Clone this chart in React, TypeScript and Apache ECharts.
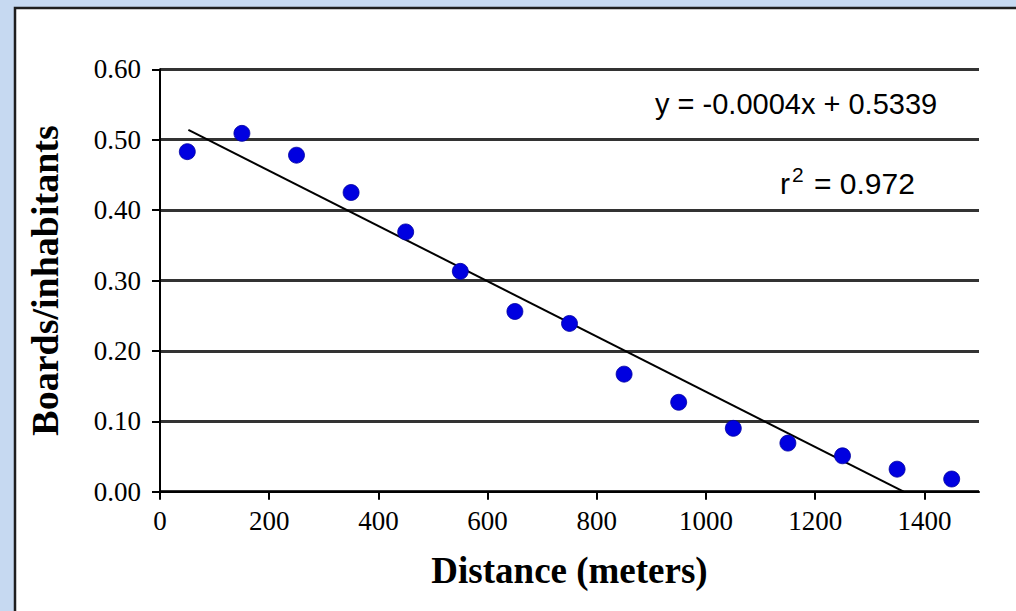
import React, { useEffect, useRef } from "react";
import * as echarts from "echarts";

const distances = [50, 150, 250, 350, 450, 550, 650, 750, 850, 950, 1050, 1150, 1250, 1350, 1450];
const boardsPerInhabitant = [0.483, 0.509, 0.478, 0.425, 0.369, 0.313, 0.256, 0.239, 0.167, 0.127, 0.09, 0.069, 0.051, 0.032, 0.018];
const trendX = [52, 1362];
const trendY = [0.514, 0];
const equationText = "y = -0.0004x + 0.5339";
const r2Value = "0.972";

export default function App() {
  const ref = useRef<HTMLDivElement>(null);
  useEffect(() => {
    if (!ref.current) return;
    const chart = echarts.init(ref.current, undefined, { renderer: "svg" });
    const serif = "'Liberation Serif', 'Times New Roman', serif";
    const sans = "'Liberation Sans', Arial, sans-serif";
    chart.setOption({
      animation: false,
      backgroundColor: "#c6d9f1",
      graphic: [
        {
          type: "rect",
          z: -10,
          shape: { x: 15, y: 8, width: 1030, height: 640 },
          style: { fill: "#ffffff", stroke: "#1e1e1e", lineWidth: 2.5 },
        },
        {
          type: "text",
          z: 100,
          style: {
            text: equationText,
            x: 655,
            y: 104,
            verticalAlign: "middle",
            font: `29px ${sans}`,
            fill: "#000",
          },
        },
        {
          type: "text",
          z: 100,
          style: {
            text: `{a|r}{s|2}{a| = ${r2Value}}`,
            x: 780,
            y: 181,
            verticalAlign: "middle",
            rich: {
              a: { fontFamily: sans, fontSize: 30, fill: "#000", verticalAlign: "bottom" },
              s: { fontFamily: sans, fontSize: 21, fill: "#000", verticalAlign: "top", padding: [0, 2, 14, 2] },
            },
          },
        },
      ],
      grid: { left: 160, right: 37, top: 69.3, bottom: 119.3 },
      xAxis: {
        type: "value",
        min: 0,
        max: 1500,
        interval: 200,
        name: "Distance (meters)",
        nameLocation: "middle",
        nameGap: 60,
        nameTextStyle: { fontFamily: serif, fontWeight: "bold", fontSize: 37, color: "#000" },
        axisLine: { show: true, onZero: false, lineStyle: { color: "#000", width: 2 } },
        axisTick: { show: true, length: 8, lineStyle: { color: "#000", width: 2 } },
        axisLabel: {
          margin: 16,
          fontFamily: serif,
          fontSize: 27,
          color: "#000",
          showMaxLabel: false,
          formatter: (v: number) => String(v),
        },
        splitLine: { show: false },
      },
      yAxis: {
        type: "value",
        min: 0,
        max: 0.6,
        interval: 0.1,
        name: "Boards/inhabitants",
        nameLocation: "middle",
        nameGap: 96,
        nameTextStyle: { fontFamily: serif, fontWeight: "bold", fontSize: 38, color: "#000" },
        axisLine: { show: true, lineStyle: { color: "#000", width: 2 } },
        axisTick: { show: true, length: 8, lineStyle: { color: "#000", width: 2 } },
        axisLabel: {
          margin: 19,
          fontFamily: serif,
          fontSize: 27,
          color: "#000",
          formatter: (v: number) => v.toFixed(2),
        },
        splitLine: { show: true, lineStyle: { color: "#333", width: 3 } },
      },
      series: [
        {
          type: "scatter",
          data: distances.map((d, i) => [d, boardsPerInhabitant[i]]),
          symbol: "circle",
          symbolSize: 16,
          itemStyle: { color: "#0000e0", opacity: 1, borderColor: "#0000a0", borderWidth: 0.8 },
          z: 5,
        },
        {
          type: "line",
          data: trendX.map((x, i) => [x, trendY[i]]),
          symbol: "none",
          lineStyle: { color: "#000", width: 2 },
          z: 4,
        },
      ],
    });
    return () => chart.dispose();
  }, []);
  return (
    <div
      ref={ref}
      style={{ position: "fixed", left: 0, top: 0, width: 1016, height: 611 }}
    />
  );
}
